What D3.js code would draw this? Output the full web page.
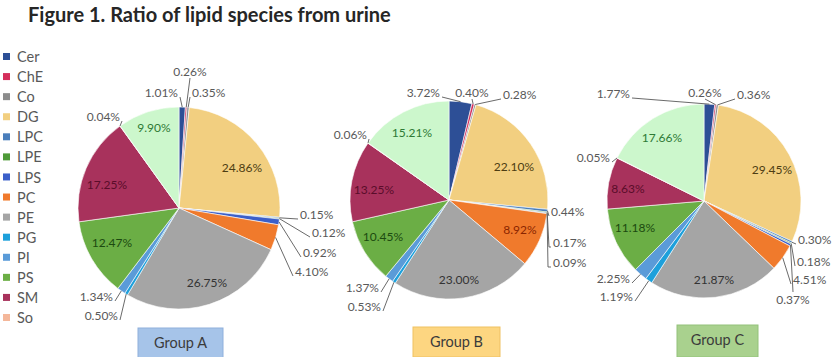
<!DOCTYPE html>
<html><head><meta charset="utf-8">
<script src="https://cdn.jsdelivr.net/npm/d3@7"></script>
<style>body{margin:0;background:#fff}svg{display:block}</style></head>
<body><svg id="c" width="836" height="357"></svg>
<script>
// ---------- data ----------
const title = "Figure 1. Ratio of lipid species from urine";
const categories = ["Cer","ChE","Co","DG","LPC","LPE","LPS","PC","PE","PG","PI","PS","SM","So","Unlisted"];
const legendCategories = ["Cer","ChE","Co","DG","LPC","LPE","LPS","PC","PE","PG","PI","PS","SM","So"];
const groupNames = ["Group A","Group B","Group C"];
const groupA = [1.01,0.26,0.35,24.86,0.15,0.12,0.92,4.10,26.75,0.50,1.34,12.47,17.25,0.04,9.90];
const groupB = [3.72,0.40,0.28,22.10,0.44,0.17,0.09,8.92,23.00,0.53,1.37,10.45,13.25,0.06,15.21];
const groupC = [1.77,0.26,0.36,29.45,0.30,0.18,0.37,4.51,21.87,1.19,2.25,11.18,8.63,0.05,17.66];
const groupValues = [groupA, groupB, groupC];

// ---------- styles / layout ----------
const palette = ["#2d4f96","#d42e5b","#8c8c8c","#f2cf80","#4a7ebb","#4e9a38","#3b5fc9","#f07a2c",
                 "#a5a5a5","#1da0db","#5a9bd8","#6bae45","#a8325c","#f4b79a","#ccf7cc"];
const insideColor = {DG:"#4d3d12",SM:"#5a0d2a",PS:"#1c4a10",Unlisted:"#2e7a35",PE:"#333333",PC:"#8b2500"};
const color = d3.scaleOrdinal(categories, palette);
const boxFill = ["#a6c4e9","#fdd681","#a9d18e"];
const boxStroke = ["#8fb0dc","#efc163","#93c27b"];
const pies = [
  {cx:179, cy:208, r:101, box:[138,328,85,30],
   lab:[["o",-1,-115,"end"],["o",11,-136,"middle"],["o",13,-115,"start"],["i",63,-40],
        ["o",121,7,"start"],["o",133,25,"start"],["o",124,45,"start"],["o",116,64,"start"],
        ["i",28,75],["o",-61,108,"end"],["o",-66,89,"end"],["i",-67,35],["i",-72,-23],
        ["o",-59,-91,"end"],["i",-25,-80]]},
  {cx:449, cy:200, r:99, box:[413,327,87,30],
   lab:[["o",-9,-107,"end"],["o",23,-107,"middle"],["o",54,-105,"start"],["i",65,-33],
        ["o",102,12,"start"],["o",104,43,"start",100,43],["o",104,63,"start",99,63],["i",71,30],
        ["i",10,80],["o",-68,107,"end"],["o",-70,88,"end"],["i",-66,37],["i",-75,-10],
        ["o",-82,-65,"end"],["i",-37,-67]]},
  {cx:704, cy:201, r:97, box:[677,325,81,32],
   lab:[["o",-74,-107,"end"],["o",1,-108,"middle"],["o",33,-106,"start"],["i",68,-31],
        ["o",94,39,"start"],["o",93,61,"start",91,61],["o",89,99,"middle"],["o",89,79,"start"],
        ["i",10,79],["o",-71,96,"end"],["o",-74,78,"end"],["i",-69,27],["i",-76,-12],
        ["o",-94,-43,"end"],["i",-42,-63]]}
];
const font = "Lato, 'Open Sans', sans-serif";

const svg = d3.select("#c");
svg.append("rect").attr("width",836).attr("height",357).attr("fill","#fff");

svg.append("text").attr("x",28).attr("y",22).text(title)
  .attr("font-family",font).attr("font-weight","bold").attr("font-size",20).attr("fill","#262626");

// legend
const ly = d3.scalePoint().domain(legendCategories).range([57,318]);
const lg = svg.append("g").selectAll("g").data(legendCategories).join("g")
  .attr("transform",d=>`translate(0,${ly(d)})`);
lg.append("rect").attr("x",3).attr("y",-4).attr("width",7).attr("height",7).attr("fill",d=>color(d));
lg.append("text").attr("x",17).attr("y",0).attr("dy","0.35em").text(d=>d)
  .attr("font-family",font).attr("font-size",14.5).attr("fill","#595959");

const pie = d3.pie().sort(null).value(d=>d.v);
const fmt = v => v.toFixed(2)+"%";

groupValues.forEach((vals,gi)=>{
  const P = pies[gi];
  const g = svg.append("g").attr("transform",`translate(${P.cx},${P.cy})`);
  const arcs = pie(vals.map((v,i)=>({v, c:categories[i], i})));
  const arc = d3.arc().innerRadius(0).outerRadius(P.r);
  g.selectAll("path").data(arcs).join("path").attr("d",arc)
    .attr("fill",d=>color(d.data.c)).attr("stroke","#fff").attr("stroke-width",0.6);
  arcs.forEach(a=>{
    const L = P.lab[a.data.i];
    if (L[0]==="i") {
      g.append("text").attr("x",L[1]).attr("y",L[2]).attr("dy","0.35em").attr("text-anchor","middle")
        .text(fmt(a.data.v)).attr("font-family",font).attr("font-size",12)
        .attr("fill",insideColor[a.data.c]||"#333");
    } else {
      const ang = (a.startAngle+a.endAngle)/2;
      const px = P.r*Math.sin(ang), py = -P.r*Math.cos(ang);
      let ex, ey;
      if (L[3]==="end") { ex=L[1]+2; ey=L[2]+4; }
      else if (L[3]==="start") { ex=L[1]-2; ey=L[2]+4; }
      else { ex=L[1]; ey = L[2] < py ? L[2]+6 : L[2]-8; }
      const pts = [[px,py]];
      if (L.length>4) pts.push([L[4], L[5]+4]);
      pts.push([ex,ey]);
      g.append("path").attr("d",d3.line()(pts)).attr("fill","none")
        .attr("stroke","#595959").attr("stroke-width",0.9);
      g.append("text").attr("x",L[1]).attr("y",L[2]).attr("dy","0.35em").attr("text-anchor",L[3])
        .text(fmt(a.data.v)).attr("font-family",font).attr("font-size",12).attr("fill","#595959");
    }
  });
  // group label box
  const b = P.box;
  svg.append("rect").attr("x",b[0]).attr("y",b[1]).attr("width",b[2]).attr("height",b[3])
    .attr("fill",boxFill[gi]).attr("stroke",boxStroke[gi]);
  svg.append("text").attr("x",b[0]+b[2]/2).attr("y",b[1]+15).attr("dy","0.35em").attr("text-anchor","middle")
    .text(groupNames[gi]).attr("font-family",font).attr("font-size",14.5).attr("fill","#3b3b3b");
});
</script></body></html>
